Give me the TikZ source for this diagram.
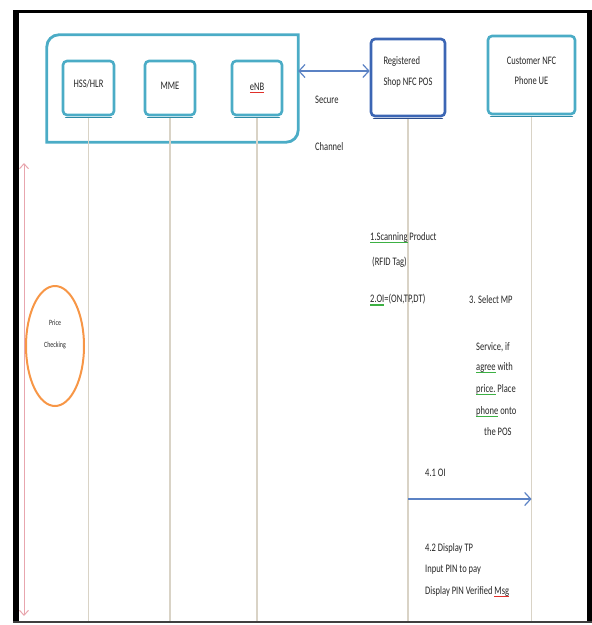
\documentclass[tikz,border=0pt]{standalone}
\usepackage{fontspec}
\setmainfont{Carlito}[FakeStretch=0.74]
\usetikzlibrary{arrows.meta,shapes.geometric}
\definecolor{cyanB}{HTML}{4BACC6}
\definecolor{cyanD}{HTML}{2F8AA6}
\definecolor{posB}{HTML}{3C66B4}
\definecolor{posD}{HTML}{2A4C8C}
\definecolor{arrB}{HTML}{5B82C4}
\definecolor{lifeC}{HTML}{D9D3C6}
\definecolor{redA}{HTML}{E8A6AE}
\definecolor{orangeC}{HTML}{F79646}
\definecolor{txtC}{HTML}{262626}
\definecolor{sqG}{HTML}{3CB043}
\definecolor{sqR}{HTML}{E0302A}
\newcommand\sqline[2]{\setbox0\hbox{#2}\rlap{\color{#1}\rule[-2.6pt]{\wd0}{1.1pt}}\box0\relax}
\newcommand\liftby[2]{\raisebox{#1}[\height][\depth]{#2}}
\begin{document}
\begin{tikzpicture}[x=1pt,y=-1pt,
  base/.style={font=\fontsize{11.5}{13}\selectfont, text=txtC},
  txt/.style={base, anchor=west, inner sep=0pt},
  entbox/.style={base, draw=cyanB, line width=2.6pt, rounded corners=4pt, inner sep=0pt, align=center},
  posbox/.style={entbox, draw=posB},
  shadowC/.style={draw=cyanD, line width=1.6pt, line cap=round},
  shadowP/.style={draw=posD, line width=1.6pt, line cap=round},
  life/.style={draw=lifeC, line width=1.3pt},
  msg/.style={draw=arrB, line width=1.2pt, -{Straight Barb[length=6pt,width=13pt]}},
  chan/.style={draw=arrB, line width=1.2pt, {Straight Barb[length=6pt,width=13pt]}-{Straight Barb[length=6pt,width=13pt]}},
]
\useasboundingbox (0,0) rectangle (592,625);

% outer frame
\fill[black] (13,10) rectangle (19,623);
\fill[black] (13,10) rectangle (592,13);
\fill[black] (587,10) rectangle (592,623);
\fill[black!75] (13,621) rectangle (592,623);

% group box
\node[draw=none, minimum width=251pt, minimum height=107pt, inner sep=0pt] (grp) at (172.5,88.5) {};
\draw[cyanB, line width=2.8pt] (grp.south west) -- ([yshift=-12pt]grp.north west)
  arc[start angle=180, end angle=90, radius=12pt] -- (grp.north east)
  -- ([yshift=12pt]grp.south east) arc[start angle=0, end angle=-90, radius=12pt] -- cycle;

% entity boxes
\node[entbox, minimum width=51pt, minimum height=54pt] (hss) at (88.5,88) {\liftby{4pt}{HSS/HLR}};
\node[entbox, minimum width=50pt, minimum height=54pt] (mme) at (170,88) {\liftby{2pt}{MME}};
\node[entbox, minimum width=50pt, minimum height=54pt] (enb) at (257,88) {\sqline{sqR}{eNB}};
\node[posbox, minimum width=74pt, minimum height=77pt] (pos) at (408,77.5)
  {\liftby{5pt}{\begin{tabular}{@{}l@{}}Registered\\[8pt]Shop NFC POS\end{tabular}}};
\node[entbox, minimum width=87pt, minimum height=78pt] (ue) at (531.5,75)
  {\liftby{3pt}{\begin{tabular}{@{}c@{}}Customer NFC\\[7pt]Phone UE\end{tabular}}};

% box bottom shadows
\foreach \b in {hss,mme,enb,ue}
  \draw[shadowC] ([xshift=4pt,yshift=-1.2pt]\b.south west) -- ([xshift=-4pt,yshift=-1.2pt]\b.south east);
\draw[shadowP] ([xshift=4pt,yshift=-1.2pt]pos.south west) -- ([xshift=-4pt,yshift=-1.2pt]pos.south east);

% lifelines
\coordinate (hssEnd) at (hss.south |- 0,621);
\coordinate (mmeEnd) at (mme.south |- 0,621);
\coordinate (enbEnd) at (enb.south |- 0,621);
\coordinate (posEnd) at (pos.south |- 0,621);
\coordinate (ueEnd) at (ue.south |- 0,621);
\draw[life] ([yshift=-2pt]hss.south) -- (hssEnd);
\draw[life] ([yshift=-2pt]mme.south) -- (mmeEnd);
\draw[life] ([yshift=-2pt]enb.south) -- (enbEnd);
\draw[life] ([yshift=-2pt]pos.south) -- (posEnd);
\draw[life] ([yshift=-2pt]ue.south) -- (ueEnd);

% secure channel
\draw[chan] (grp.east |- 0,71) -- (pos.west |- 0,71);
\node[txt] (sec1) at (315,100) {Secure};
\node[txt] (sec2) at (315,147) {Channel};

% price checking
\coordinate (rtop) at (24,163);
\coordinate (rbot) at (24,616);
\draw[redA, line width=1pt, {Straight Barb[length=5pt,width=9pt]}-{Straight Barb[length=5pt,width=9pt]}] (rtop) -- (rbot);
\node[ellipse, draw=orangeC, line width=2pt, minimum width=58pt, minimum height=120pt, inner sep=0pt] (price) at (55,346) {};
\node[base, font=\fontsize{8}{9}\selectfont, inner sep=0pt] (pc1) at (55,323) {Price};
\node[base, font=\fontsize{8}{9}\selectfont, inner sep=0pt] (pc2) at (55,345) {Checking};

% steps
\node[txt] (s1a) at (370,238) {\sqline{sqG}{1.Scanning} Product};
\node[txt] (s1b) at (372,262) {(RFID Tag)};
\node[txt] (s2) at (370,300) {\sqline{sqG}{2.OI}=(ON,TP,DT)};
\node[txt] (s3a) at (469,300) {3. Select MP};
\node[txt] (s3b) at (476,347) {Service, if};
\node[txt] (s3c) at (476,368) {\sqline{sqG}{agree} with};
\node[txt] (s3d) at (476,390) {\sqline{sqG}{price.} Place};
\node[txt] (s3e) at (476,412) {\sqline{sqG}{phone} onto};
\node[txt] (s3f) at (484,432) {the POS};

\node[txt] (s41) at (425,473) {4.1 OI};
\coordinate (oiA) at (pos.south |- 0,499);
\coordinate (oiB) at (ue.south |- 0,499);
\draw[msg] (oiA) -- (oiB);

\node[txt] (s42a) at (425,548) {4.2 Display TP};
\node[txt] (s42b) at (425,570) {Input PIN to pay};
\node[txt] (s42c) at (425,592) {Display PIN Verified \sqline{sqR}{Msg}};
\end{tikzpicture}
\end{document}
